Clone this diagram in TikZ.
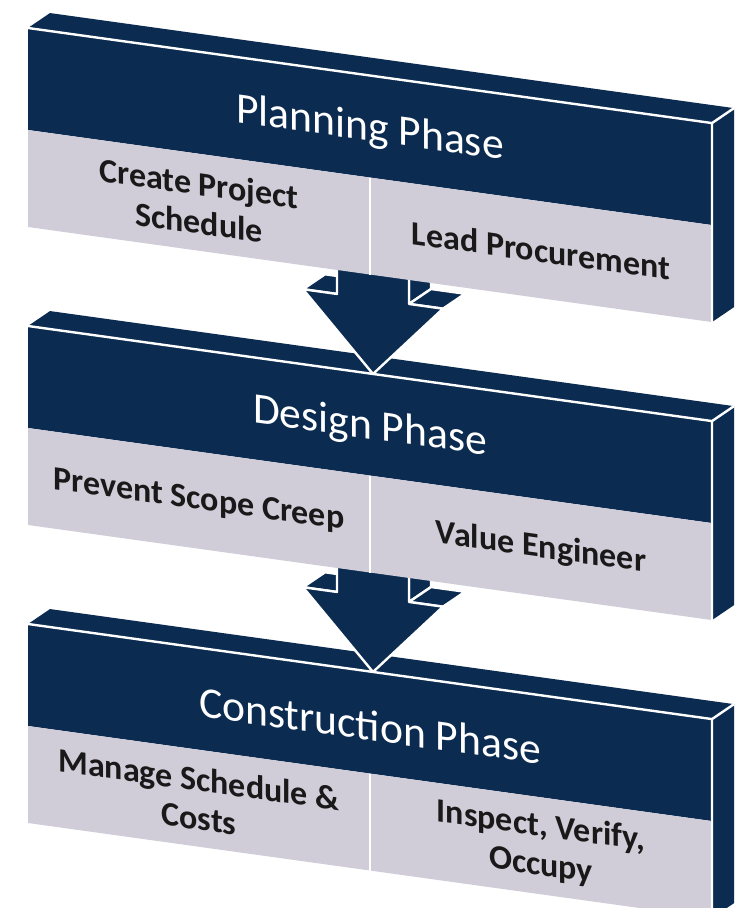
\documentclass[tikz,border=0pt]{standalone}
\usepackage{fontspec}
\setmainfont{Carlito}
\definecolor{phaseblue}{HTML}{0B2B50}
\definecolor{taskgrey}{HTML}{D0CDD8}
\tikzset{
  slabfill/.style={fill=phaseblue},
  edgeline/.style={draw=white, line width=1.2pt, line join=round},
  arrowface/.style={fill=phaseblue, draw=white, line width=1.2pt, line join=round},
  phasetitle/.style={text=white, font=\fontsize{21.8}{26}\selectfont},
  tasktext/.style={text=black!90, font=\fontsize{17}{19.5}\selectfont\bfseries, align=center},
}
\begin{document}
\begin{tikzpicture}[x=0.5pt, y=-0.5pt]

	%\draw[help lines] (0,0) grid (740,908);
	\useasboundingbox (0,0) rectangle (740,908);

	% slabs from bottom to top, each arrow under the slab above it
	\foreach \i/\y/\phase/\taska/\taskb in {
		2/624/{Construction Phase}/{Manage Schedule \&\\Costs}/{Inspect, Verify,\\Occupy},
		1/326/{Design Phase}/{Prevent Scope Creep}/{Value Engineer},
		0/28/{Planning Phase}/{Create Project\\Schedule}/{Lead Procurement}}{
	\begin{scope}[shift={(28,\y)}, yslant=-0.139, transform shape]
		\fill[slabfill] (0,0) -- (22,-18) -- (706,-18) -- (684,0) -- cycle; % top
		\fill[slabfill] (684,0) -- (706,-18) -- (706,181) -- (684,199) -- cycle; % side
		\fill[slabfill] (0,0) rectangle (684,102); % front
		\fill[taskgrey] (0,102) rectangle (684,199);
		\draw[edgeline] (0,0) -- (684,0) -- (706,-18) (684,0) -- (684,199);
		\draw[white, line width=0.7pt] (342,102) -- (342,199);
		\node[phasetitle] (phase\i) at (342,54) {\phase};
		\node[tasktext] (taska\i) at (171,151) {\taska};
		\node[tasktext] (taskb\i) at (513,151) {\taskb};
		\ifnum\i>0
			\draw[arrowface] (381,-130) -- (381,-75) -- (403,-93) -- (403,-148) -- cycle; % shaft side
			\draw[arrowface] (381,-75) -- (415,-75) -- (437,-93) -- (403,-93) -- cycle; % right wing
			\draw[arrowface] (275,-75) -- (309,-75) -- (331,-93) -- (297,-93) -- cycle; % left wing
			\draw[arrowface] (309,-130) -- (309,-75) -- (275,-75) -- (345,0) -- (415,-75) -- (381,-75) -- (381,-130) -- cycle;
		\fi
	\end{scope}
	}

\end{tikzpicture}
\end{document}
